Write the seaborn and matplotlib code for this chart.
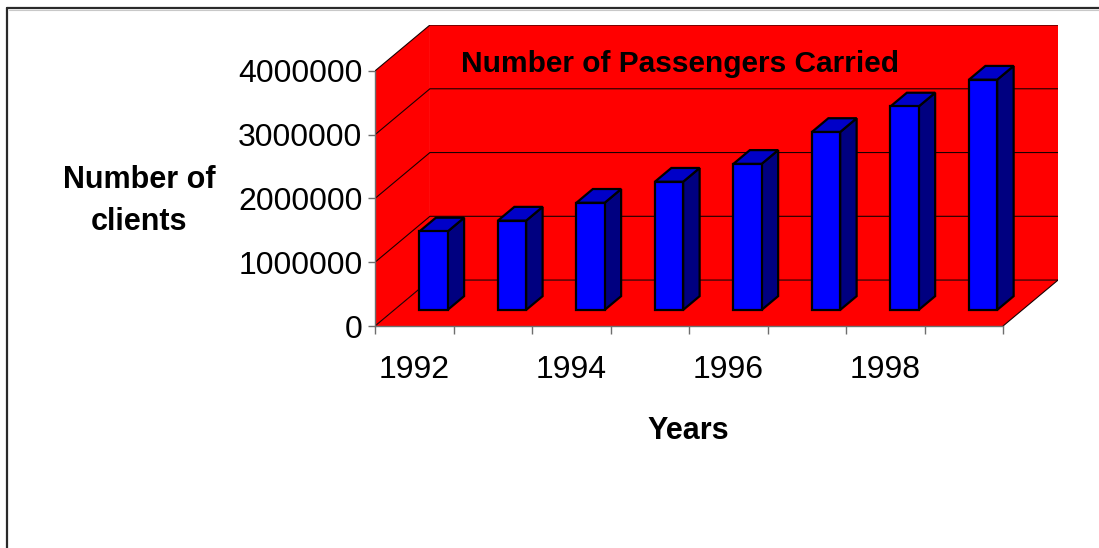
import matplotlib
matplotlib.use("Agg")
import matplotlib.pyplot as plt
from matplotlib.patches import Polygon
from matplotlib.lines import Line2D
import seaborn as sns
import pandas as pd

# ---- data ----
years = ["1992", "1993", "1994", "1995", "1996", "1997", "1998", "1999"]
passengers = [1230000, 1400000, 1680000, 2010000, 2290000, 2790000, 3190000, 3610000]
y_ticks = [0, 1000000, 2000000, 3000000, 4000000]
title_text = "Number of Passengers Carried"
ylabel_text = "Number of\nclients"
xlabel_text = "Years"

# ---- style ----
sns.set_style("white")
plt.rcParams["font.family"] = ["Liberation Sans", "DejaVu Sans"]
plt.rcParams["text.color"] = "black"
plt.rcParams["xtick.color"] = "black"
plt.rcParams["ytick.color"] = "black"

WALL = "#FF0000"
FRONT = "#0000FF"
SIDE = "#000080"
TOP = "#0000C8"
AXGRAY = "#6e6e6e"

n = len(years)
DX = 0.70               # depth offset in category units
DY = 0.72e6             # depth offset in value units
F0 = 0.35               # depth fraction of bar front face
BD = 0.30               # bar depth fraction
ymax = y_ticks[-1]

fig = plt.figure(figsize=(10.99, 5.48), dpi=100)
ax = fig.add_axes([375 / 1099, 1 - 326 / 548, 683 / 1099, 301 / 548])
ax.set_facecolor("none")

df = pd.DataFrame({"Year": years, "Passengers": passengers})
sns.barplot(data=df, x="Year", y="Passengers", color=FRONT, saturation=1,
            width=0.36, edgecolor="black", linewidth=1.6, ax=ax, zorder=5)
bars = list(ax.patches)

x0w, x1w = -0.5, n - 0.5

# walls / floor
left_wall = Polygon([(x0w, 0), (x0w, ymax), (x0w + DX, ymax + DY), (x0w + DX, DY)],
                    closed=True, facecolor=WALL, edgecolor="none", zorder=1)
floor = Polygon([(x0w, 0), (x1w, 0), (x1w + DX, DY), (x0w + DX, DY)],
                closed=True, facecolor=WALL, edgecolor="none", zorder=1)
back = Polygon([(x0w + DX, DY), (x1w + DX, DY), (x1w + DX, ymax + DY), (x0w + DX, ymax + DY)],
               closed=True, facecolor=WALL, edgecolor="none", zorder=1)
for p in (left_wall, floor, back):
    ax.add_patch(p)

# gridlines on side & back walls
for v in y_ticks:
    ax.plot([x0w, x0w + DX, x1w + DX], [v, v + DY, v + DY],
            color="#1a0000", lw=0.8, zorder=2, solid_joinstyle="miter")
# floor right edge
ax.plot([x1w, x1w + DX], [0, DY], color="#1a0000", lw=0.8, zorder=2)

# 3D bars: shift front faces and add side / top faces
sx, sy = F0 * DX, F0 * DY
ddx, ddy = BD * DX, BD * DY
for b in bars:
    b.set_x(b.get_x() + sx)
    b.set_y(sy)
    x0 = b.get_x()
    x1 = x0 + b.get_width()
    h = b.get_height()
    yb, yt = sy, sy + h
    side = Polygon([(x1, yb), (x1 + ddx, yb + ddy), (x1 + ddx, yt + ddy), (x1, yt)],
                   closed=True, facecolor=SIDE, edgecolor="black", lw=1.6, zorder=4,
                   joinstyle="miter")
    top = Polygon([(x0, yt), (x1, yt), (x1 + ddx, yt + ddy), (x0 + ddx, yt + ddy)],
                  closed=True, facecolor=TOP, edgecolor="black", lw=1.6, zorder=4,
                  joinstyle="miter")
    ax.add_patch(side)
    ax.add_patch(top)

ax.set_xlim(x0w, x1w + DX)
ax.set_ylim(0, ymax + DY)

# spines
for s in ("top", "right"):
    ax.spines[s].set_visible(False)
ax.spines["left"].set_bounds(0, ymax)
ax.spines["bottom"].set_bounds(x0w, x1w)
for s in ("left", "bottom"):
    ax.spines[s].set_color(AXGRAY)
    ax.spines[s].set_linewidth(1.0)
    ax.spines[s].set_zorder(3)

# y ticks
ax.set_yticks(y_ticks)
ax.set_yticklabels([str(v) for v in y_ticks])
ax.tick_params(axis="y", which="major", direction="out", length=5, width=1,
               color=AXGRAY, labelcolor="black", labelsize=23, pad=4, left=True)

# x ticks: marks at category boundaries, labels at every other category
ax.set_xticks([i - 0.5 for i in range(n + 1)])
ax.set_xticklabels([])
ax.set_xticks(list(range(0, n, 2)), minor=True)
ax.set_xticklabels(years[::2], minor=True)
ax.tick_params(axis="x", which="major", direction="out", length=6, width=1,
               color=AXGRAY, bottom=True)
ax.tick_params(axis="x", which="minor", length=0, labelsize=23, pad=21,
               labelcolor="black", bottom=True)
ax.set_xlabel("")
ax.set_ylabel("")

# texts
fig.text(680 / 1099, 1 - 64 / 548, title_text, ha="center", va="center",
         fontsize=21.5, fontweight="bold", color="black")
fig.text(139 / 1099, 1 - 201 / 548, ylabel_text, ha="center", va="center",
         fontsize=22, fontweight="bold", linespacing=1.55, color="black")
fig.text(688 / 1099, 1 - 431 / 548, xlabel_text, ha="center", va="center",
         fontsize=22, fontweight="bold", color="black")

# outer frame (top & left visible)
fig.add_artist(Line2D([7 / 1099, 1.0], [1 - 8 / 548, 1 - 8 / 548], color="#2a2a2a", lw=1.6))
fig.add_artist(Line2D([7 / 1099, 7 / 1099], [0, 1 - 8 / 548], color="#2a2a2a", lw=1.6))
fig.add_artist(Line2D([8.5 / 1099, 1.0], [1 - 10 / 548, 1 - 10 / 548], color="#c8c8c8", lw=0.8))

fig.savefig("out.png", dpi=100)
